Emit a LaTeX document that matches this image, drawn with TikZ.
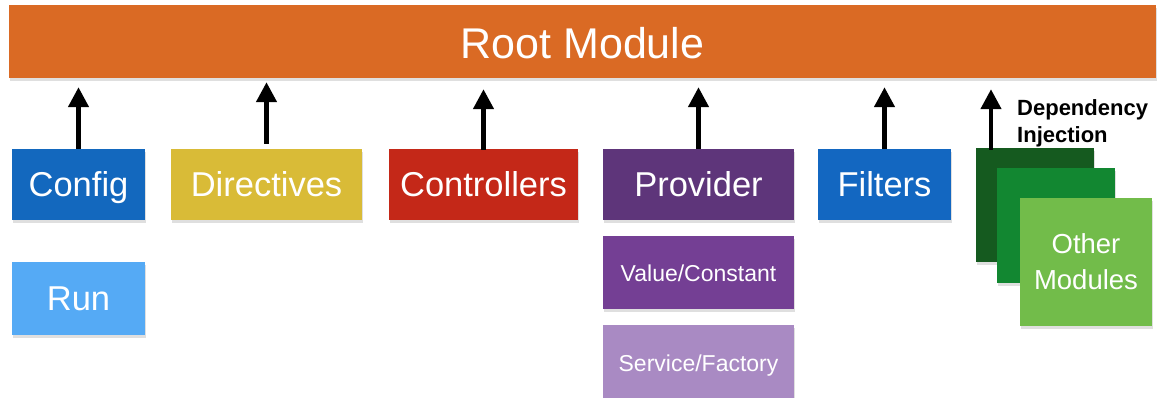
\documentclass[tikz,border=0pt]{standalone}
\usepackage{fontspec}
\setmainfont{Liberation Sans}
\usetikzlibrary{arrows.meta,shadows}
\definecolor{cRoot}{RGB}{218,106,36}
\definecolor{cConfig}{RGB}{19,104,190}
\definecolor{cRun}{RGB}{85,170,245}
\definecolor{cDir}{RGB}{217,187,55}
\definecolor{cCtrl}{RGB}{196,40,24}
\definecolor{cProv}{RGB}{94,53,122}
\definecolor{cVal}{RGB}{116,63,148}
\definecolor{cServ}{RGB}{169,138,195}
\definecolor{cFilt}{RGB}{19,103,193}
\definecolor{cGreenA}{RGB}{21,90,31}
\definecolor{cGreenB}{RGB}{18,135,49}
\definecolor{cGreenC}{RGB}{114,188,74}
\tikzset{
  box/.style={rectangle, inner sep=0pt, text=white, align=center,
    drop shadow={shadow xshift=0.6pt, shadow yshift=-3.5pt, opacity=0.25}},
  bigtxt/.style={font=\fontsize{34.5}{40}\selectfont, text height=25pt, text depth=0pt},
  smalltxt/.style={font=\fontsize{23}{28}\selectfont, text height=17.5pt, text depth=0pt},
  arr/.style={line width=4.5pt, -{Triangle[width=20pt,length=20pt]}},
}
\begin{document}
\begin{tikzpicture}[x=1pt,y=-1pt]
\useasboundingbox (0,0) rectangle (1163,398);
\node[box, fill=cRoot, minimum width=1147pt, minimum height=73pt,
  font=\fontsize{43}{50}\selectfont, text height=35pt, text depth=0pt] (root) at (582.5,41.5) {Root Module};
\node[box, bigtxt, fill=cConfig, minimum width=133pt, minimum height=71pt] (config) at (78.5,184.5) {Config};
\node[box, bigtxt, fill=cRun, minimum width=133pt, minimum height=73pt] (run) at (78.5,298.5) {Run};
\node[box, bigtxt, fill=cDir, minimum width=191pt, minimum height=71pt] (dir) at (266.5,184.5) {Directives};
\node[box, bigtxt, fill=cCtrl, minimum width=189pt, minimum height=71pt] (ctrl) at (483.5,184.5) {Controllers};
\node[box, bigtxt, fill=cProv, minimum width=191pt, minimum height=71pt] (prov) at (698.5,184.5) {Provider};
\node[box, smalltxt, fill=cVal, minimum width=191pt, minimum height=73pt] (val) at (698.5,272.5) {Value/Constant};
\node[box, smalltxt, fill=cServ, minimum width=191pt, minimum height=75pt] (serv) at (698.5,362.5) {Service/Factory};
\node[box, bigtxt, fill=cFilt, minimum width=133pt, minimum height=71pt] (filt) at (884.5,184.5) {Filters};
\node[box, fill=cGreenA, minimum width=118pt, minimum height=114pt] (ga) at (1035,205) {};
\node[box, fill=cGreenB, minimum width=118pt, minimum height=115pt] (gb) at (1056,225.5) {};
\node[box, fill=cGreenC, minimum width=132pt, minimum height=128pt,
  font=\fontsize{27.5}{36}\selectfont] (gc) at (1086,262) {Other\\Modules};
\node[anchor=west, inner sep=0pt, align=left,
  font=\fontsize{22}{27}\selectfont\bfseries] (di) at (1017,123) {Dependency\\Injection};
\coordinate (dia) at ([xshift=-44pt]ga.north);
\draw[arr, shorten >=9pt] (config.north) -- (config.north |- root.south);
\draw[arr, shorten <=5pt, shorten >=4pt] (dir.north) -- (dir.north |- root.south);
\draw[arr, shorten <=-1pt, shorten >=11pt] (ctrl.north) -- (ctrl.north |- root.south);
\draw[arr, shorten >=9pt] (prov.north) -- (prov.north |- root.south);
\draw[arr, shorten >=9pt] (filt.north) -- (filt.north |- root.south);
\draw[arr, shorten <=-2pt, shorten >=11pt] (dia) -- (dia |- root.south);
\end{tikzpicture}
\end{document}
